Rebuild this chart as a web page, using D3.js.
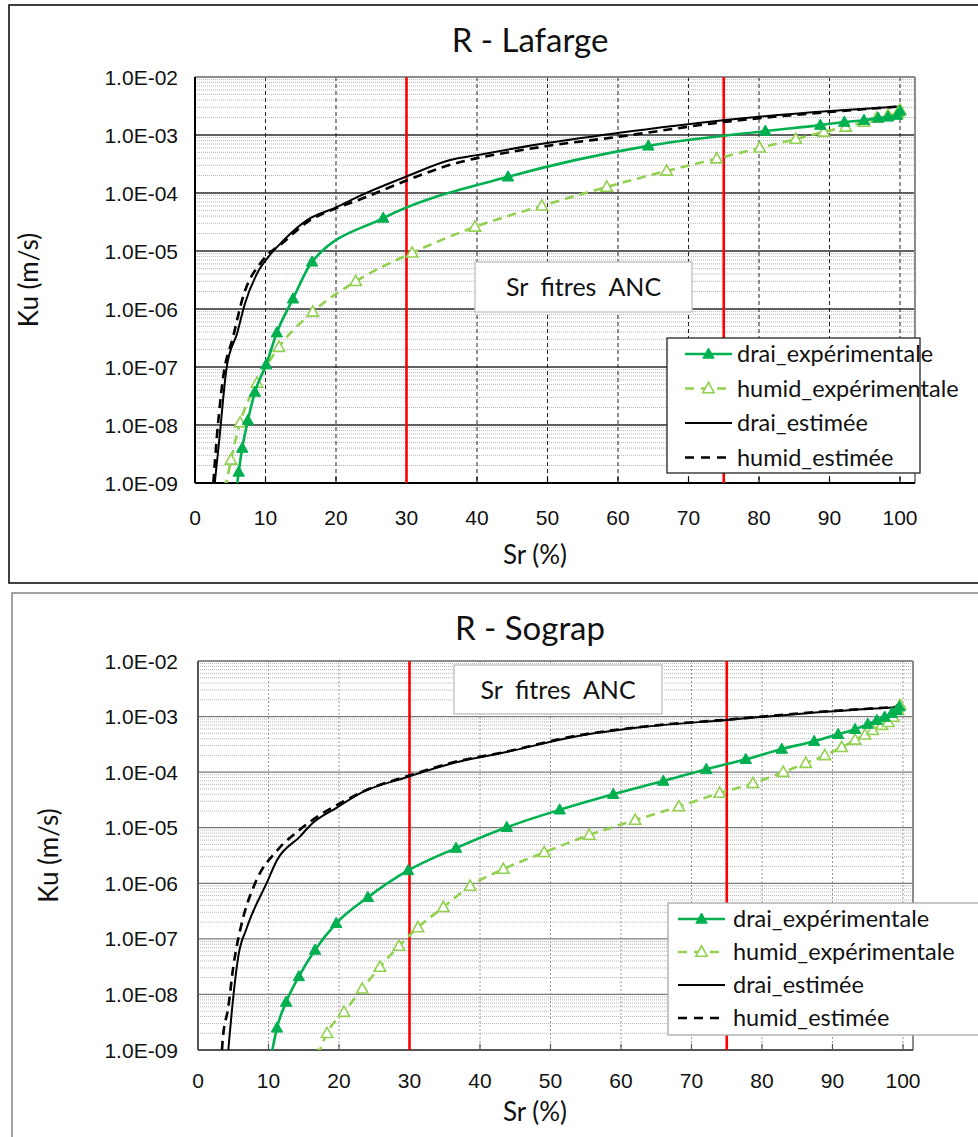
<!DOCTYPE html>
<html><head><meta charset="utf-8">
<script src="https://cdn.jsdelivr.net/npm/d3@7"></script>
<style>
body{margin:0;background:#fff;}
svg{display:block;}
</style></head>
<body>
<script>
// ---------- DATA ----------
const xTickValues = [0,10,20,30,40,50,60,70,80,90,100];
const yTickValues = [1e-2,1e-3,1e-4,1e-5,1e-6,1e-7,1e-8,1e-9];
const yTickLabels = ["1.0E-02","1.0E-03","1.0E-04","1.0E-05","1.0E-06","1.0E-07","1.0E-08","1.0E-09"];
const redLines = [30, 75];
const seriesNames = ["drai_expérimentale","humid_expérimentale","drai_estimée","humid_estimée"];

// R - Lafarge
const lafDraiExpSr = [5.9,6.2,6.7,7.5,8.5,10.1,11.6,13.9,16.6,26.7,44.4,64.3,80.9,88.7,92.1,94.9,96.9,98.3,99.6,100];
const lafDraiExpKu = [8e-10,1.55e-9,4e-9,1.2e-8,3.7e-8,1.1e-7,3.9e-7,1.5e-6,6.5e-6,3.7e-5,1.9e-4,6.5e-4,1.17e-3,1.48e-3,1.67e-3,1.8e-3,1.97e-3,2.05e-3,2.2e-3,2.6e-3];
const lafHumidExpSr = [4.3,5.1,6.4,8.8,11.9,16.7,22.8,30.8,39.7,49.2,58.4,66.9,74.0,80.1,85.2,89.2,92.3,94.9,96.7,98.3,99.7,100];
const lafHumidExpKu = [8e-10,2.5e-9,1.1e-8,5.3e-8,2.2e-7,8.9e-7,3.0e-6,9.3e-6,2.6e-5,6e-5,1.27e-4,2.4e-4,3.9e-4,6e-4,8.5e-4,1.13e-3,1.38e-3,1.67e-3,1.97e-3,2.2e-3,2.4e-3,2.7e-3];
const lafDraiEstSr = [2.8,3.4,4.5,6.0,7.1,8.9,10.4,12.5,15.9,20.1,23.0,30.1,36.2,40,49,59.9,74.9,90.1,100];
const lafDraiEstKu = [1e-9,4.9e-9,1e-7,3.9e-7,1.26e-6,4.3e-6,7.9e-6,1.5e-5,3.4e-5,5.7e-5,8.5e-5,1.95e-4,3.7e-4,4.5e-4,7e-4,1.08e-3,1.8e-3,2.6e-3,3.1e-3];
const lafHumidEstSr = [2.6,3.1,4.0,5.4,6.8,9.6,12.5,16,20.1,23.8,30.1,34.8,49,60,75,90,100];
const lafHumidEstKu = [1e-9,6.2e-9,6.7e-8,3.3e-7,1.6e-6,6.9e-6,1.4e-5,3.2e-5,5.5e-5,8.1e-5,1.66e-4,2.7e-4,6.2e-4,9.3e-4,1.67e-3,2.5e-3,3.1e-3];

// R - Sograp
const sogDraiExpSr = [10.4,11.2,12.5,14.3,16.6,19.6,24.1,29.8,36.6,43.8,51.3,58.9,66.0,72.1,77.7,82.8,87.4,90.8,93.2,95.0,96.3,97.4,98.4,99.1,99.5];
const sogDraiExpKu = [8e-10,2.5e-9,7.3e-9,2.1e-8,6.3e-8,1.9e-7,5.6e-7,1.7e-6,4.3e-6,1.02e-5,2.1e-5,4e-5,6.9e-5,1.13e-4,1.7e-4,2.6e-4,3.6e-4,4.8e-4,5.9e-4,7.3e-4,8.6e-4,9.8e-4,1.15e-3,1.3e-3,1.5e-3];
const sogHumidExpSr = [17.0,18.3,20.7,23.3,25.8,28.5,31.2,34.8,38.6,43.3,49.1,55.5,62.0,68.2,74.0,78.7,83.0,86.2,88.9,91.3,93.2,94.6,95.7,97.0,97.9,98.6,99.3,99.6];
const sogHumidExpKu = [8e-10,2.0e-9,4.8e-9,1.26e-8,3.1e-8,7.4e-8,1.6e-7,3.7e-7,8.9e-7,1.8e-6,3.6e-6,7.4e-6,1.37e-5,2.4e-5,4.2e-5,6.3e-5,1e-4,1.45e-4,2.0e-4,2.8e-4,3.8e-4,4.7e-4,5.7e-4,7e-4,7.9e-4,9.8e-4,1.3e-3,1.6e-3];
const sogDraiEstSr = [4.3,5.0,5.7,6.9,9.8,11.2,14.5,15.9,19.7,23.4,29.6,35.7,43.8,53.2,62.7,75,86.4,99.6];
const sogDraiEstKu = [1e-9,8.9e-9,4.7e-8,1.55e-7,1.05e-6,2.6e-6,7e-6,1.1e-5,2.3e-5,4.4e-5,8.1e-5,1.4e-4,2.3e-4,4.3e-4,6.4e-4,8.7e-4,1.15e-3,1.48e-3];
const sogHumidEstSr = [3.4,3.5,4.3,5.0,6.2,8.1,11.3,14.0,17.3,20.5,23.6,29.6,35.7,43.8,53.2,62.7,75,86.4,99.6];
const sogHumidEstKu = [1e-9,1.5e-9,5.9e-9,3.1e-8,1.9e-7,1e-6,4e-6,8.3e-6,1.7e-5,2.9e-5,4.6e-5,8.4e-5,1.45e-4,2.35e-4,4.4e-4,6.5e-4,8.8e-4,1.17e-3,1.5e-3];

// ---------- DRAWING ----------
const W = 978, H = 1137;
const svg = d3.select("body").append("svg").attr("width", W).attr("height", H);

const uiFont = "Lato, 'Open Sans', sans-serif";
const tickFont = "'Liberation Sans', Arial, sans-serif";

function zip(xs, ys){ return xs.map((x,i)=>({x:x, y:ys[i]})); }

function triangle(g, x, y, filled, color){
  const s = 6;
  g.append("path")
    .attr("d", `M${x},${y-s} L${x+s*0.95},${y+s*0.7} L${x-s*0.95},${y+s*0.7} Z`)
    .attr("fill", filled ? color : "#fff")
    .attr("stroke", color).attr("stroke-width", filled ? 1 : 1.6);
}

function drawChart(cfg){
  const g = svg.append("g");
  g.append("rect").attr("x", cfg.panel[0]).attr("y", cfg.panel[1])
    .attr("width", cfg.panel[2]).attr("height", cfg.panel[3])
    .attr("fill", "#fff").attr("stroke", cfg.panelStroke).attr("stroke-width", 1.6);

  const x = d3.scaleLinear().domain([0,100]).range([cfg.x0, cfg.x100]);
  const y = d3.scaleLog().domain([1e-9,1e-2]).range([cfg.bottom, cfg.top]);
  const L = cfg.x0, R = cfg.right, T = cfg.top, B = cfg.bottom;

  const clipId = "clip" + cfg.id;
  g.append("clipPath").attr("id", clipId).append("rect")
    .attr("x", L).attr("y", T).attr("width", R-L).attr("height", B-T);

  const minor = [];
  for (let e=-9; e<-2; e++) for (let m=2; m<=9; m++) minor.push(m*Math.pow(10,e));
  g.append("g").selectAll("line").data(minor).join("line")
    .attr("x1", L).attr("x2", R).attr("y1", d=>y(d)).attr("y2", d=>y(d))
    .attr("stroke", "#b5b5b5").attr("stroke-width", 1).attr("stroke-dasharray", "1,1");
  g.append("g").selectAll("line").data(yTickValues.filter(v=>v>1e-9 && v<1e-2)).join("line")
    .attr("x1", L).attr("x2", R).attr("y1", d=>y(d)).attr("y2", d=>y(d))
    .attr("stroke", cfg.majorColor).attr("stroke-width", cfg.majorWidth);
  g.append("g").selectAll("line").data(xTickValues.filter(v=>v>0)).join("line")
    .attr("x1", d=>x(d)).attr("x2", d=>x(d)).attr("y1", T).attr("y2", B)
    .attr("stroke", cfg.vColor).attr("stroke-width", 1).attr("stroke-dasharray", cfg.vDash);

  g.append("line").attr("x1", L).attr("x2", R).attr("y1", T).attr("y2", T).attr("stroke", "#8c8c8c").attr("stroke-width", 2);
  g.append("line").attr("x1", R).attr("x2", R).attr("y1", T).attr("y2", B).attr("stroke", "#8c8c8c").attr("stroke-width", 2);
  g.append("line").attr("x1", L).attr("x2", L).attr("y1", T).attr("y2", B).attr("stroke", cfg.axisColor).attr("stroke-width", 2);
  g.append("line").attr("x1", L).attr("x2", R).attr("y1", B).attr("y2", B).attr("stroke", cfg.axisColor).attr("stroke-width", 2);

  g.append("g").selectAll("line").data(xTickValues).join("line")
    .attr("x1", d=>x(d)).attr("x2", d=>x(d)).attr("y1", B).attr("y2", B-6)
    .attr("stroke", cfg.axisColor).attr("stroke-width", 1.2);

  g.append("g").selectAll("line").data(redLines).join("line")
    .attr("x1", d=>x(d)).attr("x2", d=>x(d)).attr("y1", T).attr("y2", B)
    .attr("stroke", "#ff0000").attr("stroke-width", 2.6);

  g.append("g").selectAll("text").data(yTickValues).join("text")
    .attr("x", L-cfg.yLabelGap).attr("y", d=>y(d)).attr("dy", "0.36em")
    .attr("text-anchor", "end").attr("font-family", tickFont).attr("font-size", 21)
    .attr("fill", "#111").text((d,i)=>yTickLabels[i]);
  g.append("g").selectAll("text").data(xTickValues).join("text")
    .attr("x", d=>x(d)).attr("y", B+cfg.xLabelOffset).attr("text-anchor", "middle")
    .attr("font-family", tickFont).attr("font-size", 21).attr("fill", "#111").text(d=>d);

  g.append("text").attr("x", cfg.titleX).attr("y", cfg.titleY).attr("text-anchor", "middle")
    .attr("font-family", uiFont).attr("font-size", 33).attr("fill", "#111").text(cfg.title);
  g.append("text").attr("x", 535).attr("y", cfg.xTitleY).attr("text-anchor", "middle")
    .attr("font-family", uiFont).attr("font-size", 26).attr("fill", "#111").text("Sr (%)");
  g.append("text").attr("transform", `translate(${cfg.yTitleX},${(T+B)/2}) rotate(-90)`)
    .attr("text-anchor", "middle").attr("font-family", uiFont).attr("font-size", 26)
    .attr("fill", "#111").text("Ku (m/s)");

  const plot = g.append("g").attr("clip-path", `url(#${clipId})`);
  const line = d3.line().x(d=>x(d.x)).y(d=>y(d.y)).curve(d3.curveMonotoneX);
  const styles = [
    {color:"#00b050", width:2.6, dash:null, marker:"filled"},
    {color:"#92d050", width:2.6, dash:"9,6", marker:"open"},
    {color:"#000", width:2, dash:null, marker:null},
    {color:"#000", width:2.6, dash:"9,6", marker:null}
  ];
  const order = [2,3,1,0];
  order.forEach(i=>{
    const s = styles[i], data = cfg.series[i];
    plot.append("path").datum(data).attr("d", line).attr("fill", "none")
      .attr("stroke", s.color).attr("stroke-width", s.width)
      .attr("stroke-dasharray", s.dash);
    if (s.marker){
      const mg = plot.append("g");
      data.forEach(d=>triangle(mg, x(d.x), y(d.y), s.marker==="filled", s.color));
    }
  });

  const nb = cfg.noteBox;
  g.append("rect").attr("x", nb[0]).attr("y", nb[1]).attr("width", nb[2]).attr("height", nb[3])
    .attr("fill", "#fff").attr("stroke", "#c8c8c8").attr("stroke-width", 1.5);
  g.append("text").attr("x", nb[0]+nb[2]/2).attr("y", nb[1]+nb[3]/2).attr("dy", "0.36em")
    .attr("text-anchor", "middle").attr("font-family", uiFont).attr("font-size", 25)
    .attr("fill", "#111").attr("xml:space", "preserve").style("white-space", "pre").text("Sr  fitres  ANC");

  const lb = cfg.legendBox;
  g.append("rect").attr("x", lb[0]).attr("y", lb[1]).attr("width", lb[2]).attr("height", lb[3])
    .attr("fill", "#fff").attr("stroke", cfg.legendStroke).attr("stroke-width", 1.3);
  seriesNames.forEach((name,i)=>{
    const s = styles[i];
    const yy = lb[1] + cfg.legendFirst + i*cfg.legendStep;
    const lx0 = lb[0] + cfg.legendLine[0], lx1 = lb[0] + cfg.legendLine[1];
    g.append("line").attr("x1", lx0).attr("x2", lx1).attr("y1", yy).attr("y2", yy)
      .attr("stroke", s.color).attr("stroke-width", s.width)
      .attr("stroke-dasharray", s.dash ? "9,7" : null);
    if (s.marker) triangle(g, (lx0+lx1)/2, yy, s.marker==="filled", s.color);
    g.append("text").attr("x", lb[0] + cfg.legendLine[2]).attr("y", yy).attr("dy", "0.36em")
      .attr("font-family", uiFont).attr("font-size", 23.5).attr("fill", "#111").text(name);
  });
}

drawChart({
  id: "A", title: "R - Lafarge", titleX: 530, titleY: 52,
  panel: [9, 5, 990, 578], panelStroke: "#111",
  x0: 195, x100: 900, right: 915, top: 77, bottom: 483,
  majorColor: "#2b2b2b", majorWidth: 1.6, vColor: "#222", vDash: "4,3", axisColor: "#000",
  xTitleY: 564, yTitleX: 38, yLabelGap: 17, xLabelOffset: 42,
  series: [zip(lafDraiExpSr,lafDraiExpKu), zip(lafHumidExpSr,lafHumidExpKu), zip(lafDraiEstSr,lafDraiEstKu), zip(lafHumidEstSr,lafHumidEstKu)],
  noteBox: [475, 262, 217, 50],
  legendBox: [667, 338, 253, 135], legendStroke: "#222", legendFirst: 16, legendStep: 34.5,
  legendLine: [18, 65, 70]
});

drawChart({
  id: "B", title: "R - Sograp", titleX: 530, titleY: 640,
  panel: [12, 593, 990, 560], panelStroke: "#8a8a8a",
  x0: 198, x100: 903, right: 913, top: 661, bottom: 1050,
  majorColor: "#7a7a7a", majorWidth: 1.2, vColor: "#9a9a9a", vDash: "2,2", axisColor: "#555",
  xTitleY: 1121, yTitleX: 58, yLabelGap: 20, xLabelOffset: 38,
  series: [zip(sogDraiExpSr,sogDraiExpKu), zip(sogHumidExpSr,sogHumidExpKu), zip(sogDraiEstSr,sogDraiEstKu), zip(sogHumidEstSr,sogHumidEstKu)],
  noteBox: [454, 665, 208, 49],
  legendBox: [668, 903, 320, 132], legendStroke: "#aaa", legendFirst: 16, legendStep: 33,
  legendLine: [10, 57, 65]
});
</script>
</body></html>
